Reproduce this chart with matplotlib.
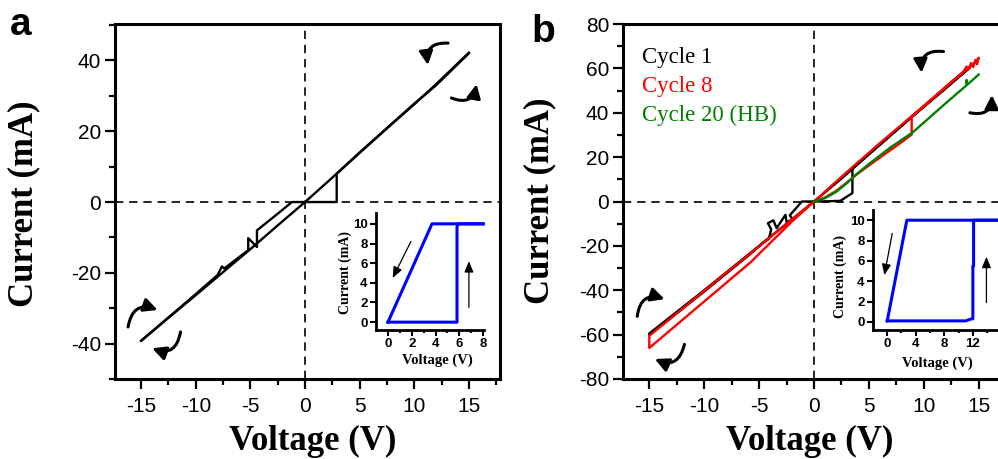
import matplotlib
matplotlib.use('Agg')
from matplotlib import pyplot as plt
from matplotlib.ticker import MultipleLocator, FixedLocator
import numpy as np

plt.rcParams['axes.unicode_minus'] = False
plt.rcParams['font.family'] = ['Liberation Sans', 'DejaVu Sans']

SERIF = ['Liberation Serif', 'DejaVu Serif']

# Panel a: single I-V loop (V, mA)
a_up_v = [0, 2.9, 2.9, 5, 8, 10, 12, 15]
a_up_i = [0, 0, 8.0, 13.9, 22.2, 27.6, 33.3, 42.2]
a_down_v = [15, 12, 10, 7.5, 5, 2.5, 0, -2.5, -5, -7.5, -10, -12.5, -15]
a_down_i = [42.0, 33.0, 27.8, 20.9, 14.0, 6.9, 0, -6.6, -13.3, -19.8, -26.3, -32.7, -39.2]
a_back_v = [-15, -12.5, -10, -8.0, -7.6, -7.4, -5.2, -5.2, -4.4, -4.4, -2.5, -1.2, 0]
a_back_i = [-39.2, -32.6, -26.0, -20.6, -18.2, -18.8, -13.6, -10.2, -12.7, -8.0, -3.3, 0, 0]

# Panel a inset (switching sweep)
ia_up_v = [0, 5.8, 5.8, 5.9, 8]
ia_up_i = [0, 0, 9.7, 10, 10]
ia_down_v = [8, 3.7, 0, 0]
ia_down_i = [10, 10, 0, 0]

# Panel b: cycles
c1_v = [0, 1.2, 2.4, 3.5, 3.5, 4.85, 8.9, 12, 14.2, 12, 8.9, 5, 2.5, 0,
        -5, -10, -15, -15, -10, -6, -4.6, -4.1, -3.9, -4.2, -3.7, -3.4,
        -2.6, -2.5, -1.9, -2.2, -1.1, 0]
c1_i = [0, 0.1, 0.3, 3.8, 15.0, 21.0, 38.3, 51.3, 60.4, 51.0, 38.0, 21.2, 10.3, 0,
        -20.0, -40.0, -59.5, -60.2, -40.6, -24.5, -18.5, -16.8, -12.5, -9.8, -8.5, -12.0,
        -6.0, -9.2, -8.4, -6.2, 0, 0]
c8_v = [0, 1, 2, 3, 4, 6, 8, 8.9, 8.9, 10, 12, 13.6, 13.9, 14.1, 14.3, 14.5,
        14.7, 14.85, 15, 14.8, 12, 10, 6, 3, 0,
        -2, -5.8, -10.7, -15, -15, -10, -5, 0]
c8_i = [0, 1.8, 4.7, 8.6, 12.6, 19.8, 26.8, 30.2, 38.4, 43.0, 51.7, 58.5, 60.8, 59.6, 62.4, 60.6,
        63.8, 61.8, 64.8, 63.2, 51.6, 43.0, 26.3, 13.3, 0,
        -9.0, -27.5, -48.0, -66.0, -60.5, -40.3, -20.2, 0]
c20_v = [0, 1, 2, 3, 3.6, 5, 7, 9, 12, 13.9, 13.9, 13.95, 15]
c20_i = [0, 1.5, 4.3, 8.3, 11.2, 16.9, 24.5, 31.2, 44.3, 52.4, 54.8, 52.6, 57.2]

# Panel b inset
ib_up_v = [0, 11, 11.8, 12.0, 12.0, 12.1, 12.1, 16.5]
ib_up_i = [0.1, 0.1, 0.3, 0.3, 5.5, 5.5, 10, 10]
ib_down_v = [16.5, 2.75, 0]
ib_down_i = [10, 10, 0.1]

legend_labels = ['Cycle 1', 'Cycle 8', 'Cycle 20 (HB)']
legend_colors = ['black', 'red', 'green']

fig = plt.figure(figsize=(9.98, 4.59), dpi=100)


def style_main(ax, ylim, ymajor):
    ax.set_xlim(-17.4, 17.85)
    ax.set_ylim(*ylim)
    ax.xaxis.set_major_locator(MultipleLocator(5))
    ax.xaxis.set_minor_locator(MultipleLocator(2.5))
    ax.yaxis.set_major_locator(MultipleLocator(ymajor))
    ax.yaxis.set_minor_locator(MultipleLocator(ymajor / 2))
    for s in ax.spines.values():
        s.set_linewidth(2.2)
    ax.tick_params(which='major', direction='out', length=7, width=1.6, labelsize=15, pad=3)
    ax.tick_params(axis='x', which='major', pad=6)
    ax.tick_params(which='minor', direction='out', length=4, width=1.6)
    ax.axhline(0, color='k', lw=1.2, ls=(0, (5, 3.5)), zorder=1)
    ax.axvline(0, color='k', lw=1.2, ls=(0, (5, 3.5)), zorder=1)


def style_inset(ax, xlim, ylim, xmajor, xminor):
    ax.set_xlim(*xlim)
    ax.set_ylim(*ylim)
    ax.patch.set_alpha(0)
    ax.spines['top'].set_visible(False)
    ax.spines['right'].set_visible(False)
    ax.spines['left'].set_linewidth(2)
    ax.spines['bottom'].set_linewidth(2)
    ax.xaxis.set_major_locator(FixedLocator(xmajor))
    ax.xaxis.set_minor_locator(FixedLocator(xminor))
    ax.yaxis.set_major_locator(MultipleLocator(2))
    ax.tick_params(which='major', direction='out', length=4, width=1.5, labelsize=9.5, pad=2)
    ax.tick_params(which='minor', direction='out', length=2.5, width=1.5)
    for lab in ax.get_xticklabels() + ax.get_yticklabels():
        lab.set_fontweight('bold')


def curved(ax, start, tip, rad):
    ax.annotate('', xy=tip, xytext=start,
                arrowprops=dict(arrowstyle='-|>,head_length=0.9,head_width=0.45',
                                connectionstyle='arc3,rad=%s' % rad,
                                lw=2.2, color='k', mutation_scale=9,
                                shrinkA=0, shrinkB=0))


def straight(ax, start, tip):
    ax.annotate('', xy=tip, xytext=start,
                arrowprops=dict(arrowstyle='-|>,head_length=0.6,head_width=0.25',
                                lw=0.9, color='k', mutation_scale=11,
                                shrinkA=0, shrinkB=0))


# ---- panel a
ax_a = fig.add_axes([0.1152, 0.1743, 0.3858, 0.7734])
style_main(ax_a, (-50, 50.3), 20)
ax_a.plot(a_up_v, a_up_i, color='k', lw=1.7, zorder=3)
ax_a.plot(a_down_v, a_down_i, color='k', lw=1.7, zorder=3)
ax_a.plot(a_back_v, a_back_i, color='k', lw=1.7, zorder=3)
curved(ax_a, (13.1, 44.9), (11.25, 38.7), 0.6)
curved(ax_a, (13.4, 29.4), (15.7, 33.3), 0.6)
curved(ax_a, (-16.2, -35.3), (-13.5, -30.5), -0.6)
curved(ax_a, (-11.4, -36.7), (-14.0, -41.3), -0.6)

ins_a = fig.add_axes([0.3768, 0.2810, 0.1082, 0.2549])
style_inset(ins_a, (-1, 8.07), (-0.8, 11.1), [0, 2, 4, 6, 8], [1, 3, 5, 7])
ins_a.plot(ia_up_v, ia_up_i, color='#0000ff', lw=2.2, clip_on=False)
ins_a.plot(ia_down_v, ia_down_i, color='#0000ff', lw=2.2, clip_on=False)
straight(ins_a, (1.93, 8.2), (0.4, 4.5))
straight(ins_a, (6.8, 1.5), (6.8, 6.2))

# ---- panel b
ax_b = fig.add_axes([0.6242, 0.1743, 0.3878, 0.7734])
style_main(ax_b, (-80, 80), 20)
ax_b.plot(c1_v, c1_i, color='black', lw=1.7, zorder=3)
ax_b.plot(c8_v, c8_i, color='red', lw=1.7, zorder=4)
ax_b.plot(c20_v, c20_i, color='green', lw=1.7, zorder=5)
curved(ax_b, (11.8, 67.6), (9.8, 58.0), 0.6)
curved(ax_b, (14.2, 40.0), (16.2, 48.0), 0.6)
curved(ax_b, (-16.1, -51.8), (-13.6, -44.0), -0.6)
curved(ax_b, (-11.8, -64.4), (-14.5, -71.0), -0.6)
for k, (lab, col) in enumerate(zip(legend_labels, legend_colors)):
    ax_b.text(-15.7, 62.5 - k * 13.0, lab, color=col, family=SERIF, fontsize=16.5,
              va='baseline', ha='left')

ins_b = fig.add_axes([0.8747, 0.2810, 0.1323, 0.2614])
style_inset(ins_b, (-2, 16.5), (-0.8, 11.0), [0, 4, 8, 12], [2, 6, 10, 14])
ins_b.plot(ib_up_v, ib_up_i, color='#0000ff', lw=2.2)
ins_b.plot(ib_down_v, ib_down_i, color='#0000ff', lw=2.2)
straight(ins_b, (0.7, 8.7), (-0.4, 4.6))
straight(ins_b, (13.9, 1.9), (13.9, 6.4))

# ---- labels
W, H = 998.0, 459.0
for cx in (313, 810):
    fig.text(cx / W, 1 - 450 / H, 'Voltage (V)', family=SERIF, fontweight='bold',
             fontsize=25, ha='center', va='baseline')
for cx, cy in ((24, 204), (540, 201)):
    fig.text(cx / W, 1 - cy / H, 'Current (mA)', family=SERIF, fontweight='bold',
             fontsize=25, ha='center', va='center', rotation=90)
for cx, cy in ((345, 273), (840, 277)):
    fig.text(cx / W, 1 - cy / H, 'Current (mA)', family=SERIF, fontweight='bold',
             fontsize=10, ha='center', va='center', rotation=90)
for cx, cy in ((437, 360), (937, 363)):
    fig.text(cx / W, 1 - cy / H, 'Voltage (V)', family=SERIF, fontweight='bold',
             fontsize=10.5, ha='center', va='center')
fig.text(10 / W, 1 - 35 / H, 'a', fontweight='bold', fontsize=28, ha='left', va='baseline')
fig.text(531 / W, 1 - 42 / H, 'b', fontweight='bold', fontsize=28, ha='left', va='baseline')

fig.savefig('out.png', dpi=100)
